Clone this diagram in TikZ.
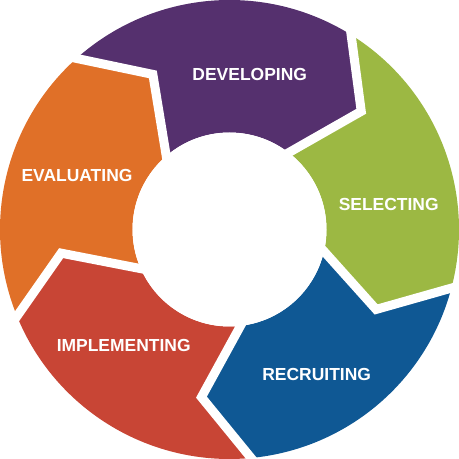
\documentclass[tikz,border=0pt]{standalone}
\usepackage{fontspec}
\setsansfont{Liberation Sans}
\usepackage{tikz}
\usetikzlibrary{calc}

\definecolor{devpurple}{HTML}{55306E}
\definecolor{selgreen}{HTML}{9CB843}
\definecolor{recblue}{HTML}{0F5894}
\definecolor{impred}{HTML}{C84535}
\definecolor{evaorange}{HTML}{E07028}

\begin{document}
\begin{tikzpicture}[
  scale=0.03,
  every node/.style={font=\sffamily\bfseries\fontsize{14.9}{17}\selectfont,
                     text=white, inner sep=0pt},
  gap/.style={draw=white, line width=0.27cm, line join=miter},
]
\useasboundingbox (-229.5,-229.5) rectangle (229.5,229.5);

%% Ring segments, clockwise
% colour / start angle / notch angle / notch radius / inner start /
%          end angle / tip angle / tip radius / inner end
\foreach \col/\a/\am/\ar/\ai/\b/\bm/\br/\bi in {
    devpurple/131.8/116.3/173/130.7/58.0/41.9/177/52.4,
    selgreen/58.0/41.9/177/52.4/-14.8/-28.6/167/-13.0,
    recblue/-14.8/-28.6/167/-13.0/-84.6/-99.5/170/-83.5,
    impred/-84.6/-99.5/170/-83.5/-157.8/-172.0/170/-156.2,
    evaorange/202.2/188.0/170/203.8/131.8/116.3/173/130.7} {
  \fill[\col] (\a:229.5) arc[start angle=\a, end angle=\b, radius=229.5]
    -- (\bm:\br) -- (\bi:97) arc[start angle=\bi, end angle=\ai, radius=97]
    -- (\am:\ar) -- cycle;
}

%% White gaps between the segments
\foreach \o/\m/\r/\i in {58.0/41.9/177/52.4, -14.8/-28.6/167/-13.0,
    -84.6/-99.5/170/-83.5, -157.8/-172.0/170/-156.2, 131.8/116.3/173/130.7} {
  \draw[gap] ($(\m:\r)!1.15!(\o:229.5)$) -- (\m:\r) -- ($(\m:\r)!1.1!(\i:97)$);
}

%% Hole in the middle
\fill[white] (0,0) circle[radius=97];

%% Labels
\node (developing)   at (20.2,155.2)   {DEVELOPING};
\node (selecting)    at (159.2,25.5)   {SELECTING};
\node (recruiting)   at (87.2,-144.5)  {RECRUITING};
\node (implementing) at (-105.8,-115.5) {IMPLEMENTING};
\node (evaluating)   at (-152.5,54.5)  {EVALUATING};

\end{tikzpicture}
\end{document}
